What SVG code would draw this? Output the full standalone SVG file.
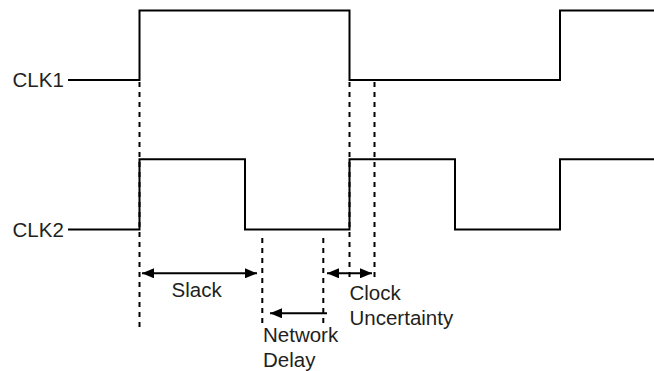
<svg xmlns="http://www.w3.org/2000/svg" width="654" height="371" viewBox="0 0 654 371">
<style>
.wave{fill:none;stroke:#000;stroke-width:2;stroke-linejoin:miter}
.dash{fill:none;stroke:#000;stroke-width:2;stroke-dasharray:5,5}
.arr{fill:none;stroke:#000;stroke-width:2}
.lbl{font-family:"Liberation Sans",Arial,sans-serif;font-size:20.5px;fill:#231f20}
</style>
<defs>
<marker id="ah" viewBox="0 0 12 10" refX="12" refY="5" markerWidth="12" markerHeight="10" markerUnits="userSpaceOnUse" orient="auto-start-reverse">
<path d="M0,0 L12,5 L0,10 Z" fill="#000"/>
</marker>
</defs>
<rect width="654" height="371" fill="#fff"/>
<g id="clk1">
<text class="lbl" x="12.5" y="87">CLK1</text>
<path class="wave" d="M68,80 H139.5 V10.5 H349.5 V80 H560 V10.5 H654"/>
</g>
<g id="clk2">
<text class="lbl" x="12.5" y="237">CLK2</text>
<path class="wave" d="M68,229.5 H139.5 V159.3 H245 V229.5 H349.5 V159.3 H455 V229.5 H560 V159.3 H654"/>
</g>
<g id="connectors">
<line class="dash" x1="139.5" y1="82" x2="139.5" y2="330"/>
<line class="dash" x1="349.5" y1="82" x2="349.5" y2="282"/>
<line class="dash" x1="374.5" y1="82" x2="374.5" y2="282"/>
<line class="dash" x1="262.3" y1="238" x2="262.3" y2="328"/>
<line class="dash" x1="323.3" y1="238" x2="323.3" y2="328"/>
<line class="arr" x1="142" y1="273.3" x2="257" y2="273.3" marker-start="url(#ah)" marker-end="url(#ah)"/>
<line class="arr" x1="327" y1="313.3" x2="270" y2="313.3" marker-end="url(#ah)"/>
<line class="arr" x1="327" y1="273.3" x2="372" y2="273.3" marker-start="url(#ah)" marker-end="url(#ah)"/>
</g>
<g id="slack"><text class="lbl" x="171.5" y="297">Slack</text></g>
<g id="network-delay"><text class="lbl" x="263" y="341.5">Network</text><text class="lbl" x="263" y="367">Delay</text></g>
<g id="clock-uncertainty"><text class="lbl" x="349.5" y="299.5">Clock</text><text class="lbl" x="349.5" y="324.5">Uncertainty</text></g>
</svg>
